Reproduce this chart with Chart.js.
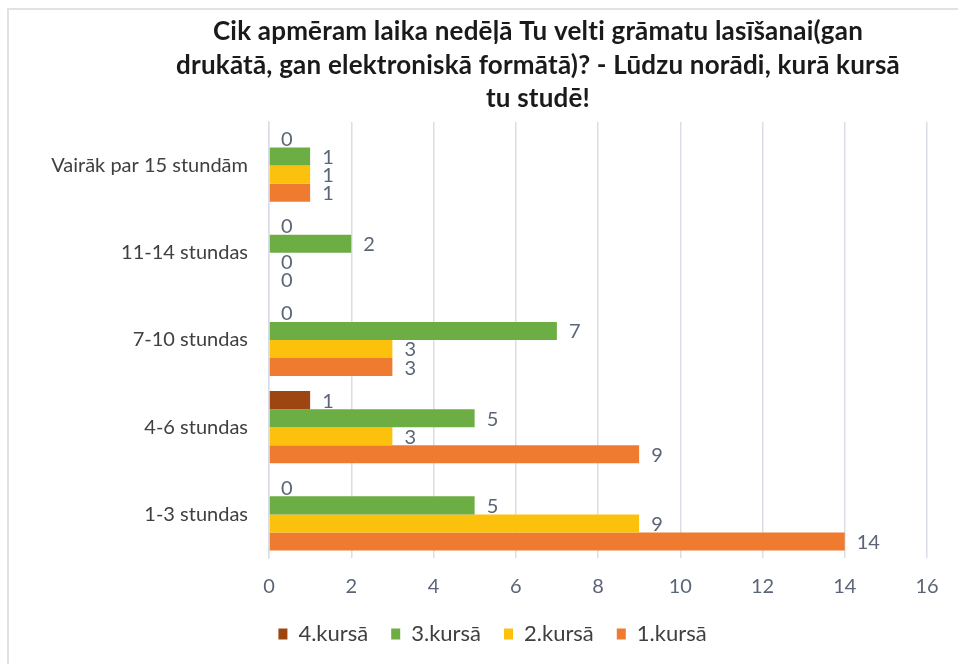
<!DOCTYPE html>
<html>
<head>
<meta charset="utf-8">
<script src="https://cdn.jsdelivr.net/npm/chart.js@4.4.1/dist/chart.umd.min.js"></script>
<style>
  html, body { margin: 0; padding: 0; background: #fff; }
  #wrap { width: 958px; height: 664px; }
</style>
</head>
<body>
<div id="wrap"><canvas id="myChart" width="958" height="664"></canvas></div>
<script>
const categories = ["Vairāk par 15 stundām", "11-14 stundas", "7-10 stundas", "4-6 stundas", "1-3 stundas"];
const course4 = [0, 0, 0, 1, 0];
const course3 = [1, 2, 7, 5, 5];
const course2 = [1, 0, 3, 3, 9];
const course1 = [1, 0, 3, 9, 14];
const xTicks = [0, 2, 4, 6, 8, 10, 12, 14, 16];
const titleLines = [
    "Cik apmēram laika nedēļā Tu velti grāmatu lasīšanai(gan",
    "drukātā, gan elektroniskā formātā)? - Lūdzu norādi, kurā kursā",
    "tu studē!"
];

const FONT = "Lato, 'Open Sans', sans-serif";
const gridColor = "#d9dee6";
const tickColor = "#5b6577";

// frame, title, legend nudge
const framePlugin = {
    id: "frame",
    afterLayout(chart) {
        // legend in the original is centred a bit right of the canvas middle
        chart.legend.left = 58;
    },
    beforeDraw(chart) {
        const ctx = chart.ctx;
        ctx.save();
        ctx.fillStyle = "#ffffff";
        ctx.fillRect(0, 0, chart.width, chart.height);
        ctx.strokeStyle = "#dfe3e8";
        ctx.lineWidth = 2;
        ctx.strokeRect(8, 9, chart.width + 20, chart.height + 20);
        ctx.fillStyle = "#1a1a1a";
        ctx.font = "bold 26px " + FONT;
        ctx.letterSpacing = "0.2px";
        ctx.textAlign = "center";
        ctx.textBaseline = "alphabetic";
        titleLines.forEach((line, i) => ctx.fillText(line, 538, 40 + i * 33.5));
        ctx.restore();
    }
};

// value labels at bar ends
const valueLabels = {
    id: "valueLabels",
    afterDatasetsDraw(chart) {
        const ctx = chart.ctx;
        ctx.save();
        ctx.font = "20px " + FONT;
        ctx.fillStyle = tickColor;
        ctx.textAlign = "left";
        ctx.textBaseline = "middle";
        chart.data.datasets.forEach((ds, i) => {
            const meta = chart.getDatasetMeta(i);
            meta.data.forEach((bar, j) => {
                ctx.fillText(String(ds.data[j]), bar.x + 12, bar.y + 1);
            });
        });
        ctx.restore();
    }
};

const chartContext = document.getElementById("myChart").getContext("2d");
const myChart = new Chart(chartContext, {
    type: "bar",
    data: {
        labels: categories,
        datasets: [
            { label: "4.kursā", data: course4, backgroundColor: "#9e4611" },
            { label: "3.kursā", data: course3, backgroundColor: "#6cae44" },
            { label: "2.kursā", data: course2, backgroundColor: "#fcc10d" },
            { label: "1.kursā", data: course1, backgroundColor: "#ef7b30" }
        ]
    },
    options: {
        indexAxis: "y",
        responsive: false,
        animation: false,
        layout: { padding: { top: 122, left: 30, right: 31, bottom: 9 } },
        datasets: {
            bar: { categoryPercentage: 0.828, barPercentage: 1.0 }
        },
        scales: {
            x: {
                min: 0,
                max: 16,
                afterBuildTicks: (scale) => { scale.ticks = xTicks.map(v => ({ value: v })); },
                afterFit: (scale) => { scale.height = 42; },
                grid: { color: gridColor, lineWidth: 1.5, drawTicks: false },
                border: { display: false },
                ticks: { color: tickColor, padding: 17, font: { family: FONT, size: 20 } }
            },
            y: {
                afterFit: (scale) => { scale.width = 239; },
                grid: { display: false, drawTicks: false },
                border: { color: gridColor, width: 1.5 },
                ticks: { color: "#404040", padding: 21, font: { family: FONT, size: 20 } }
            }
        },
        plugins: {
            title: { display: false },
            tooltip: { enabled: false },
            legend: {
                position: "bottom",
                labels: {
                    color: "#404040",
                    boxWidth: 9,
                    boxHeight: 11,
                    padding: 23,
                    font: { family: FONT, size: 22 }
                }
            }
        }
    },
    plugins: [framePlugin, valueLabels]
});
</script>
</body>
</html>
